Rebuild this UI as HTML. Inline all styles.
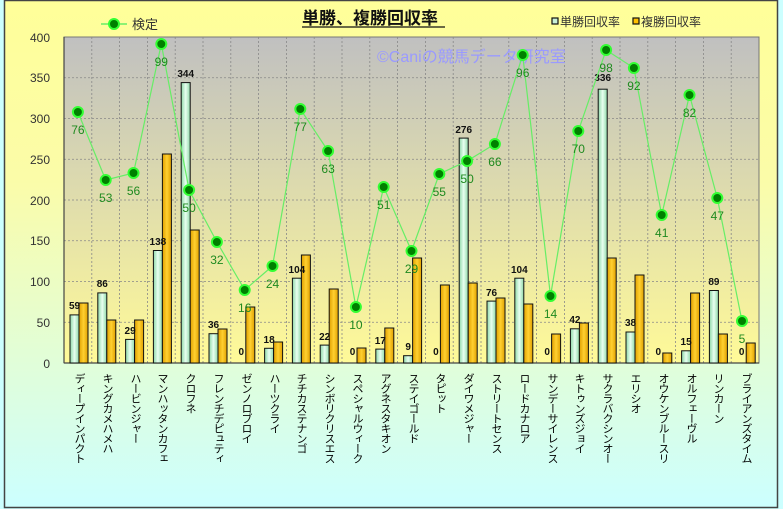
<!DOCTYPE html>
<html><head><meta charset="utf-8"><style>
body{margin:0;}
#c{position:relative;width:783px;height:509px;overflow:hidden;font-family:"Liberation Sans","Noto Sans CJK JP",sans-serif;}
.xl{position:absolute;top:373px;writing-mode:vertical-rl;font-size:11px;letter-spacing:-1px;line-height:13px;color:#000;font-family:"Liberation Sans","Noto Sans CJK JP",sans-serif;white-space:nowrap;}
</style></head><body><div id="c">
<svg width="783" height="509" style="position:absolute;left:0;top:0" font-family="Liberation Sans, Noto Sans CJK JP, sans-serif">
<defs>
<linearGradient id="og" x1="0" y1="0" x2="0" y2="1"><stop offset="0" stop-color="#ffff99"/><stop offset="0.35" stop-color="#fbfca8"/><stop offset="1" stop-color="#ccffff"/></linearGradient>
<linearGradient id="pg" x1="0" y1="0" x2="0" y2="1"><stop offset="0" stop-color="#c0c0c0"/><stop offset="1" stop-color="#fffa98"/></linearGradient>
<linearGradient id="gb" x1="0" y1="0" x2="1" y2="0"><stop offset="0" stop-color="#8fd8a8"/><stop offset="0.5" stop-color="#e8fff0"/><stop offset="1" stop-color="#8fd8a8"/></linearGradient>
<linearGradient id="yb" x1="0" y1="0" x2="1" y2="0"><stop offset="0" stop-color="#e0a000"/><stop offset="0.5" stop-color="#ffd030"/><stop offset="1" stop-color="#e0a000"/></linearGradient>
</defs>
<rect x="0" y="0" width="783" height="509" fill="#ccffff"/>
<rect x="4.5" y="0.5" width="773" height="507" fill="url(#og)" stroke="#444" stroke-width="1.5"/>
<rect x="64" y="37" width="695" height="326" fill="url(#pg)" stroke="#777" stroke-width="1"/>
<g stroke="#888" stroke-dasharray="2,2" stroke-width="0.8">
<line x1="64" x2="759" y1="77.75" y2="77.75"/><line x1="64" x2="759" y1="118.5" y2="118.5"/><line x1="64" x2="759" y1="159.25" y2="159.25"/><line x1="64" x2="759" y1="200" y2="200"/><line x1="64" x2="759" y1="240.75" y2="240.75"/><line x1="64" x2="759" y1="281.5" y2="281.5"/><line x1="64" x2="759" y1="322.25" y2="322.25"/>
<line x1="91.8" x2="91.8" y1="37" y2="363"/><line x1="119.6" x2="119.6" y1="37" y2="363"/><line x1="147.4" x2="147.4" y1="37" y2="363"/><line x1="175.2" x2="175.2" y1="37" y2="363"/><line x1="203" x2="203" y1="37" y2="363"/><line x1="230.8" x2="230.8" y1="37" y2="363"/><line x1="258.6" x2="258.6" y1="37" y2="363"/><line x1="286.4" x2="286.4" y1="37" y2="363"/><line x1="314.2" x2="314.2" y1="37" y2="363"/><line x1="342" x2="342" y1="37" y2="363"/><line x1="369.8" x2="369.8" y1="37" y2="363"/><line x1="397.6" x2="397.6" y1="37" y2="363"/><line x1="425.4" x2="425.4" y1="37" y2="363"/><line x1="453.2" x2="453.2" y1="37" y2="363"/><line x1="481" x2="481" y1="37" y2="363"/><line x1="508.8" x2="508.8" y1="37" y2="363"/><line x1="536.6" x2="536.6" y1="37" y2="363"/><line x1="564.4" x2="564.4" y1="37" y2="363"/><line x1="592.2" x2="592.2" y1="37" y2="363"/><line x1="620" x2="620" y1="37" y2="363"/><line x1="647.8" x2="647.8" y1="37" y2="363"/><line x1="675.6" x2="675.6" y1="37" y2="363"/><line x1="703.4" x2="703.4" y1="37" y2="363"/><line x1="731.2" x2="731.2" y1="37" y2="363"/>
</g>
<line x1="64" x2="759" y1="363" y2="363" stroke="#444" stroke-width="1.2"/>
<line x1="64" x2="64" y1="37" y2="363" stroke="#444" stroke-width="1.2"/>
<g font-size="12" fill="#333" text-anchor="end">
<text x="50" y="42">400</text><text x="50" y="82">350</text><text x="50" y="123">300</text><text x="50" y="164">250</text><text x="50" y="205">200</text><text x="50" y="245">150</text><text x="50" y="286">100</text><text x="50" y="327">50</text><text x="50" y="368">0</text>
</g>
<text x="377" y="62" font-size="16" fill="#9a9aff">©Caniの競馬データ研究室</text>
<g stroke="#111" stroke-width="1">
<rect x="70" y="314.9" width="9" height="48.1" fill="url(#gb)"/><rect x="79" y="303" width="9" height="60" fill="url(#yb)"/>
<rect x="97.8" y="292.9" width="9" height="70.1" fill="url(#gb)"/><rect x="106.8" y="320" width="9" height="43" fill="url(#yb)"/>
<rect x="125.6" y="339.4" width="9" height="23.6" fill="url(#gb)"/><rect x="134.6" y="320" width="9" height="43" fill="url(#yb)"/>
<rect x="153.4" y="250.5" width="9" height="112.5" fill="url(#gb)"/><rect x="162.4" y="154" width="9" height="209" fill="url(#yb)"/>
<rect x="181.2" y="82.6" width="9" height="280.4" fill="url(#gb)"/><rect x="190.2" y="230" width="9" height="133" fill="url(#yb)"/>
<rect x="209" y="333.7" width="9" height="29.3" fill="url(#gb)"/><rect x="218" y="329" width="9" height="34" fill="url(#yb)"/>
<rect x="245.8" y="307" width="9" height="56" fill="url(#yb)"/>
<rect x="264.6" y="348.3" width="9" height="14.7" fill="url(#gb)"/><rect x="273.6" y="342" width="9" height="21" fill="url(#yb)"/>
<rect x="292.4" y="278.2" width="9" height="84.8" fill="url(#gb)"/><rect x="301.4" y="255" width="9" height="108" fill="url(#yb)"/>
<rect x="320.2" y="345.1" width="9" height="17.9" fill="url(#gb)"/><rect x="329.2" y="289" width="9" height="74" fill="url(#yb)"/>
<rect x="357" y="348" width="9" height="15" fill="url(#yb)"/>
<rect x="375.8" y="349.1" width="9" height="13.9" fill="url(#gb)"/><rect x="384.8" y="328" width="9" height="35" fill="url(#yb)"/>
<rect x="403.6" y="355.7" width="9" height="7.3" fill="url(#gb)"/><rect x="412.6" y="258" width="9" height="105" fill="url(#yb)"/>
<rect x="440.4" y="285" width="9" height="78" fill="url(#yb)"/>
<rect x="459.2" y="138.1" width="9" height="224.9" fill="url(#gb)"/><rect x="468.2" y="283" width="9" height="80" fill="url(#yb)"/>
<rect x="487" y="301.1" width="9" height="61.9" fill="url(#gb)"/><rect x="496" y="298" width="9" height="65" fill="url(#yb)"/>
<rect x="514.8" y="278.2" width="9" height="84.8" fill="url(#gb)"/><rect x="523.8" y="304" width="9" height="59" fill="url(#yb)"/>
<rect x="551.6" y="334" width="9" height="29" fill="url(#yb)"/>
<rect x="570.4" y="328.8" width="9" height="34.2" fill="url(#gb)"/><rect x="579.4" y="323" width="9" height="40" fill="url(#yb)"/>
<rect x="598.2" y="89.2" width="9" height="273.8" fill="url(#gb)"/><rect x="607.2" y="258" width="9" height="105" fill="url(#yb)"/>
<rect x="626" y="332" width="9" height="31" fill="url(#gb)"/><rect x="635" y="275" width="9" height="88" fill="url(#yb)"/>
<rect x="662.8" y="353" width="9" height="10" fill="url(#yb)"/>
<rect x="681.6" y="350.8" width="9" height="12.2" fill="url(#gb)"/><rect x="690.6" y="293" width="9" height="70" fill="url(#yb)"/>
<rect x="709.4" y="290.5" width="9" height="72.5" fill="url(#gb)"/><rect x="718.4" y="334" width="9" height="29" fill="url(#yb)"/>
<rect x="746.2" y="343" width="9" height="20" fill="url(#yb)"/>
</g>
<g font-size="10" font-weight="bold" fill="#111" text-anchor="middle">
<text x="74.5" y="309">59</text><text x="102.3" y="287">86</text><text x="130.1" y="334">29</text><text x="157.9" y="245">138</text><text x="185.7" y="77">344</text><text x="213.5" y="328">36</text><text x="241.3" y="355">0</text><text x="269.1" y="343">18</text><text x="296.9" y="273">104</text><text x="324.7" y="340">22</text><text x="352.5" y="355">0</text><text x="380.3" y="344">17</text><text x="408.1" y="350">9</text><text x="435.9" y="355">0</text><text x="463.7" y="133">276</text><text x="491.5" y="296">76</text><text x="519.3" y="273">104</text><text x="547.1" y="355">0</text><text x="574.9" y="323">42</text><text x="602.7" y="81">336</text><text x="630.5" y="326">38</text><text x="658.3" y="355">0</text><text x="686.1" y="345">15</text><text x="713.9" y="285">89</text><text x="741.7" y="355">0</text>
</g>
<polyline fill="none" stroke="#66ee66" stroke-width="1.2" points="77.9,112 105.7,180 133.5,173 161.3,44 189.1,190 216.9,242 244.7,290 272.5,266 300.3,109 328.1,151 355.9,307 383.7,187 411.5,251 439.3,174 467.1,161 494.9,144 522.7,55 550.5,296 578.3,131 606.1,50 633.9,68 661.7,215 689.5,95 717.3,198 742,321"/>
<g fill="#008000" stroke="#33ff33" stroke-width="2">
<circle cx="77.9" cy="112" r="5"/><circle cx="105.7" cy="180" r="5"/><circle cx="133.5" cy="173" r="5"/><circle cx="161.3" cy="44" r="5"/><circle cx="189.1" cy="190" r="5"/><circle cx="216.9" cy="242" r="5"/><circle cx="244.7" cy="290" r="5"/><circle cx="272.5" cy="266" r="5"/><circle cx="300.3" cy="109" r="5"/><circle cx="328.1" cy="151" r="5"/><circle cx="355.9" cy="307" r="5"/><circle cx="383.7" cy="187" r="5"/><circle cx="411.5" cy="251" r="5"/><circle cx="439.3" cy="174" r="5"/><circle cx="467.1" cy="161" r="5"/><circle cx="494.9" cy="144" r="5"/><circle cx="522.7" cy="55" r="5"/><circle cx="550.5" cy="296" r="5"/><circle cx="578.3" cy="131" r="5"/><circle cx="606.1" cy="50" r="5"/><circle cx="633.9" cy="68" r="5"/><circle cx="661.7" cy="215" r="5"/><circle cx="689.5" cy="95" r="5"/><circle cx="717.3" cy="198" r="5"/><circle cx="742" cy="321" r="5"/>
</g>
<g font-size="12" fill="#1f8a1f" text-anchor="middle">
<text x="77.9" y="134">76</text><text x="105.7" y="202">53</text><text x="133.5" y="195">56</text><text x="161.3" y="66">99</text><text x="189.1" y="212">50</text><text x="216.9" y="264">32</text><text x="244.7" y="312">16</text><text x="272.5" y="288">24</text><text x="300.3" y="131">77</text><text x="328.1" y="173">63</text><text x="355.9" y="329">10</text><text x="383.7" y="209">51</text><text x="411.5" y="273">29</text><text x="439.3" y="196">55</text><text x="467.1" y="183">50</text><text x="494.9" y="166">66</text><text x="522.7" y="77">96</text><text x="550.5" y="318">14</text><text x="578.3" y="153">70</text><text x="606.1" y="72">98</text><text x="633.9" y="90">92</text><text x="661.7" y="237">41</text><text x="689.5" y="117">82</text><text x="717.3" y="220">47</text><text x="742" y="343">5</text>
</g>
<line x1="101" x2="127" y1="24" y2="24" stroke="#66ee66" stroke-width="1.5"/>
<circle cx="114" cy="24" r="5" fill="#008000" stroke="#33ff33" stroke-width="2"/>
<text x="132" y="29" font-size="13" fill="#333">検定</text>
<text x="302" y="24" font-size="17" font-weight="bold" fill="#111">単勝、複勝回収率</text>
<line x1="302" x2="445" y1="27" y2="27" stroke="#111" stroke-width="1.2"/>
<rect x="552" y="18" width="6" height="6" fill="#c8f0d8" stroke="#111" stroke-width="1.2"/>
<text x="560" y="26" font-size="12" fill="#333">単勝回収率</text>
<rect x="633" y="18" width="6" height="6" fill="#ffc000" stroke="#111" stroke-width="1.2"/>
<text x="641" y="26" font-size="12" fill="#333">複勝回収率</text>
</svg>
<div class="xl" style="left:72px">ディープインパクト</div>
<div class="xl" style="left:100px">キングカメハメハ</div>
<div class="xl" style="left:128px">ハービンジャー</div>
<div class="xl" style="left:155px">マンハッタンカフェ</div>
<div class="xl" style="left:183px">クロフネ</div>
<div class="xl" style="left:211px">フレンチデピュティ</div>
<div class="xl" style="left:239px">ゼンノロブロイ</div>
<div class="xl" style="left:267px">ハーツクライ</div>
<div class="xl" style="left:294px">チチカステナンゴ</div>
<div class="xl" style="left:322px">シンボリクリスエス</div>
<div class="xl" style="left:350px">スペシャルウィーク</div>
<div class="xl" style="left:378px">アグネスタキオン</div>
<div class="xl" style="left:406px">ステイゴールド</div>
<div class="xl" style="left:433px">タピット</div>
<div class="xl" style="left:461px">ダイワメジャー</div>
<div class="xl" style="left:489px">ストリートセンス</div>
<div class="xl" style="left:517px">ロードカナロア</div>
<div class="xl" style="left:545px">サンデーサイレンス</div>
<div class="xl" style="left:572px">キトゥンズジョイ</div>
<div class="xl" style="left:600px">サクラバクシンオー</div>
<div class="xl" style="left:628px">エリシオ</div>
<div class="xl" style="left:656px">オウケンブルースリ</div>
<div class="xl" style="left:684px">オルフェーヴル</div>
<div class="xl" style="left:711px">リンカーン</div>
<div class="xl" style="left:739px">ブライアンズタイム</div>
</div></body></html>
